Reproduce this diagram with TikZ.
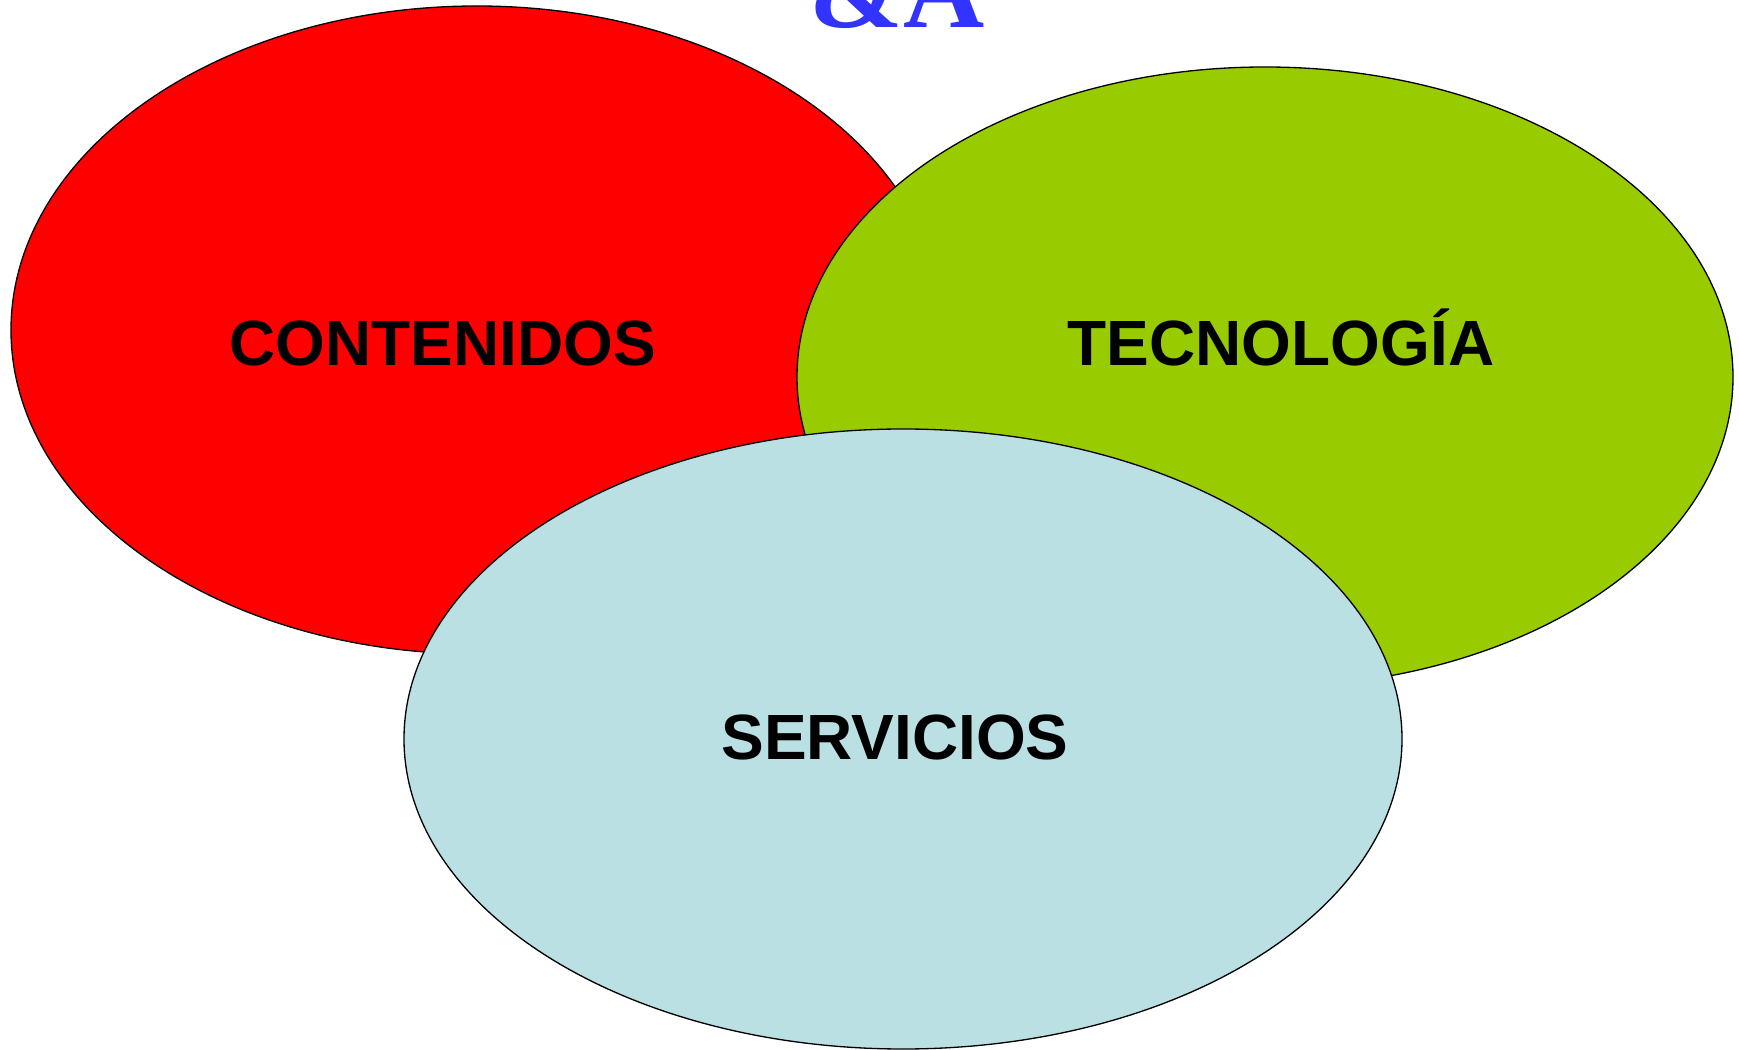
\documentclass[tikz,border=0pt]{standalone}
\usepackage{fontspec}
\setmainfont{Liberation Sans}
\newfontfamily\titlefont{Liberation Serif}
\usepackage{tikz}
\usetikzlibrary{calc}

\definecolor{rojo}{HTML}{FF0000}
\definecolor{verde}{HTML}{99CC00}
\definecolor{celeste}{HTML}{BAE0E3}
\definecolor{azul}{HTML}{3333FF}

\tikzset{
    area/.style={draw=black, line width=0.75pt},
    etiqueta/.style={anchor=base, font=\fontsize{36.4}{40}\selectfont\bfseries, text=black}
}

\begin{document}
\begin{tikzpicture}[x=0.02cm, y=-0.02cm]
        \useasboundingbox (0,0) rectangle (1739,1050);

        \node[anchor=base, text=azul, font=\fontsize{64}{70}\selectfont\titlefont\bfseries] (titulo) at (897,28) {\&A};

        \filldraw[area, fill=rojo] (477,330) ellipse [x radius=466, y radius=324];
        \filldraw[area, fill=verde] (1265,377) ellipse [x radius=468, y radius=310];
        \filldraw[area, fill=celeste] (903,739) ellipse [x radius=499, y radius=310];

        \node[etiqueta] (contenidos) at (443,366) {CONTENIDOS};
        \node[etiqueta] (tecnologia) at (1281,366) {TECNOLOGÍA};
        \node[etiqueta] (servicios) at (895,760) {SERVICIOS};

    \end{tikzpicture}
\end{document}
